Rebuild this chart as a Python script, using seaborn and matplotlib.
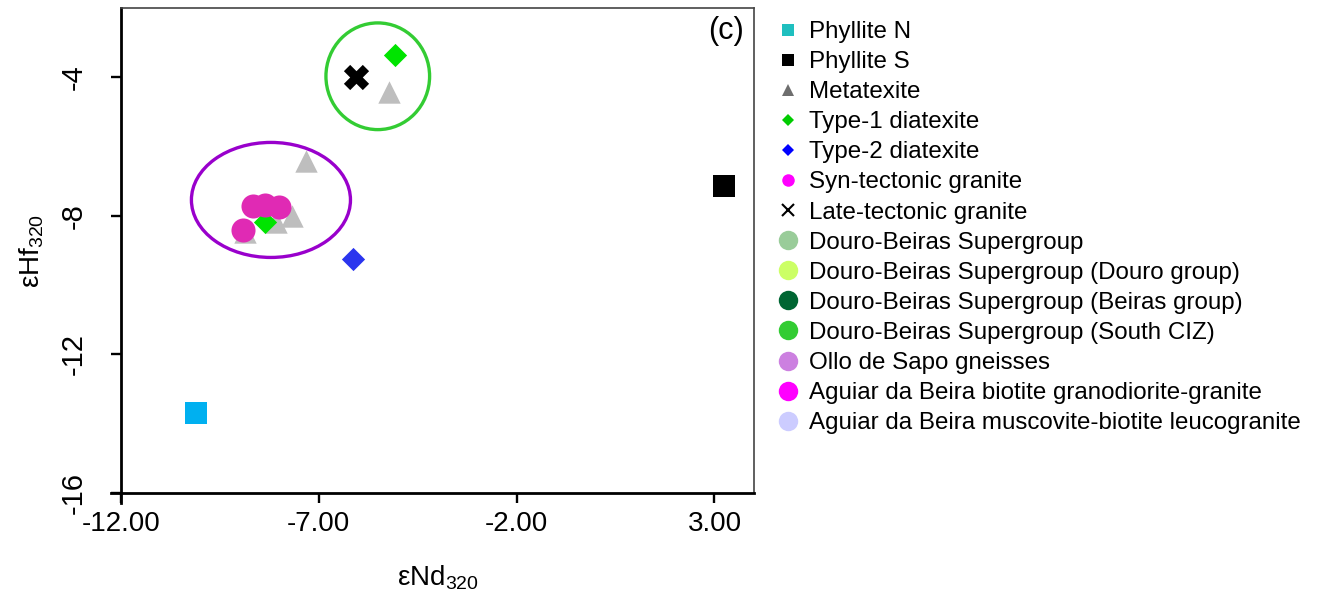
import matplotlib
matplotlib.use("Agg")
import matplotlib.pyplot as plt
import seaborn as sns
import pandas as pd
from matplotlib.patches import Ellipse
from matplotlib.lines import Line2D

# ---------------- data ----------------
phyllite_n_x = [-10.10]
phyllite_n_y = [-13.68]
phyllite_s_x = [3.25]
phyllite_s_y = [-7.13]
metatexite_x = [-5.23, -7.33, -7.67, -8.07, -8.87]
metatexite_y = [-4.42, -6.43, -8.00, -8.17, -8.47]
type1_x = [-5.08, -8.35]
type1_y = [-3.37, -8.17]
type2_x = [-6.13]
type2_y = [-9.25]
syn_x = [-8.67, -8.36, -8.01, -8.92]
syn_y = [-7.71, -7.68, -7.74, -8.41]
late_x = [-6.05]
late_y = [-3.98]

# ellipses: centre x, centre y, width, height
ellipse_green = [-5.51, -3.97, 2.62, 3.08]
ellipse_purple = [-8.21, -7.54, 4.02, 3.32]

x_ticks = [-12, -7, -2, 3]
x_tick_labels = ["-12.00", "-7.00", "-2.00", "3.00"]
y_ticks = [-4, -8, -12, -16]
y_tick_labels = ["-4", "-8", "-12", "-16"]

legend_labels = [
    "Phyllite N", "Phyllite S", "Metatexite", "Type-1 diatexite",
    "Type-2 diatexite", "Syn-tectonic granite", "Late-tectonic granite",
    "Douro-Beiras Supergroup", "Douro-Beiras Supergroup (Douro group)",
    "Douro-Beiras Supergroup (Beiras group)",
    "Douro-Beiras Supergroup (South CIZ)", "Ollo de Sapo gneisses",
    "Aguiar da Beira biotite granodiorite-granite",
    "Aguiar da Beira muscovite-biotite leucogranite",
]

# ---------------- style ----------------
sns.set_theme(style="white")
plt.rcParams['font.family'] = ['Liberation Sans', 'DejaVu Sans']
plt.rcParams['mathtext.fontset'] = 'custom'
plt.rcParams['mathtext.rm'] = 'Liberation Sans'
plt.rcParams['mathtext.it'] = 'Liberation Sans'
plt.rcParams['text.color'] = 'black'
plt.rcParams['axes.labelcolor'] = 'black'
plt.rcParams['xtick.color'] = 'black'
plt.rcParams['ytick.color'] = 'black'

fig = plt.figure(figsize=(13.18, 6.03), dpi=100)
ax = fig.add_axes([0.0918, 0.1824, 0.4803, 0.8043])

def scat(x, y, marker, color, s, **kw):
    df = pd.DataFrame({"x": x, "y": y})
    sns.scatterplot(data=df, x="x", y="y", marker=marker, color=color, s=s,
                    ax=ax, legend=False, **kw)

# ellipses
for (cx, cy, w, h), col in [(ellipse_green, "#33CC33"), (ellipse_purple, "#9900CC")]:
    ax.add_patch(Ellipse((cx, cy), w, h, fill=False, edgecolor=col, lw=2.4, zorder=1))

scat(metatexite_x, metatexite_y, "^", "#BEBEBE", 260, linewidth=0, zorder=2)
scat(type1_x, type1_y, "D", "#00E400", 140, linewidth=0, zorder=3)
scat(type2_x, type2_y, "D", "#2B35EE", 140, linewidth=0, zorder=3)
scat(syn_x, syn_y, "o", "#E02AB4", 300, linewidth=0, zorder=4)
scat(phyllite_n_x, phyllite_n_y, "s", "#00B0F0", 270, linewidth=0, zorder=3)
scat(phyllite_s_x, phyllite_s_y, "s", "#000000", 270, linewidth=0, zorder=3)
scat(late_x, late_y, "X", "#000000", 330, linewidth=0, zorder=5)

ax.set_xlim(-12, 4)
ax.set_ylim(-16, -2)
ax.set_xticks(x_ticks)
ax.set_xticklabels(x_tick_labels, fontsize=20)
ax.set_yticks(y_ticks)
ax.set_yticklabels(y_tick_labels, fontsize=21, rotation=90, va='center')
ax.tick_params(axis='both', direction='out', length=7, width=1.7,
               left=True, bottom=True)
ax.tick_params(axis='x', pad=6)
ax.tick_params(axis='y', pad=17)
ax.set_xlabel("εNd$_{320}$", fontsize=20, labelpad=19)
ax.set_ylabel("εHf$_{320}$", fontsize=20, labelpad=10)

for side in ["left", "bottom"]:
    ax.spines[side].set_linewidth(2.0)
    ax.spines[side].set_color("black")
ax.spines["left"].set_bounds(-16.29, -2)
ax.spines["bottom"].set_bounds(-12.25, 4)
for side in ["top", "right"]:
    ax.spines[side].set_linewidth(1.2)
    ax.spines[side].set_color("#444444")

ax.text(0.956, 0.952, "(c)", transform=ax.transAxes, fontsize=22,
        ha='center', va='center')

# ---------------- legend ----------------
leg_styles = [
    ("s", "#1FBFBF", 8), ("s", "#000000", 8), ("^", "#6E6E6E", 9),
    ("D", "#00CC00", 6), ("D", "#0000FF", 6), ("o", "#FF00FF", 9),
    ("x", "#000000", 8),
    ("o", "#99CC99", 14), ("o", "#CCFF66", 14), ("o", "#006633", 14),
    ("o", "#33CC33", 14), ("o", "#CC80E0", 14), ("o", "#FF00FF", 14),
    ("o", "#CCCCFF", 14),
]
handles = []
for m, c, ms in leg_styles:
    handles.append(Line2D([], [], marker=m, color=c, linestyle='none',
                          markersize=ms, markeredgewidth=1.5 if m == 'x' else 0))
fig.legend(handles, legend_labels, loc='upper left',
           bbox_to_anchor=(778 / 1318, 1 - 21 / 603), frameon=False,
           fontsize=17.4, handlelength=0.85, handletextpad=0.45,
           labelspacing=0.335, borderpad=0, borderaxespad=0)

fig.savefig("out.png", dpi=100)
